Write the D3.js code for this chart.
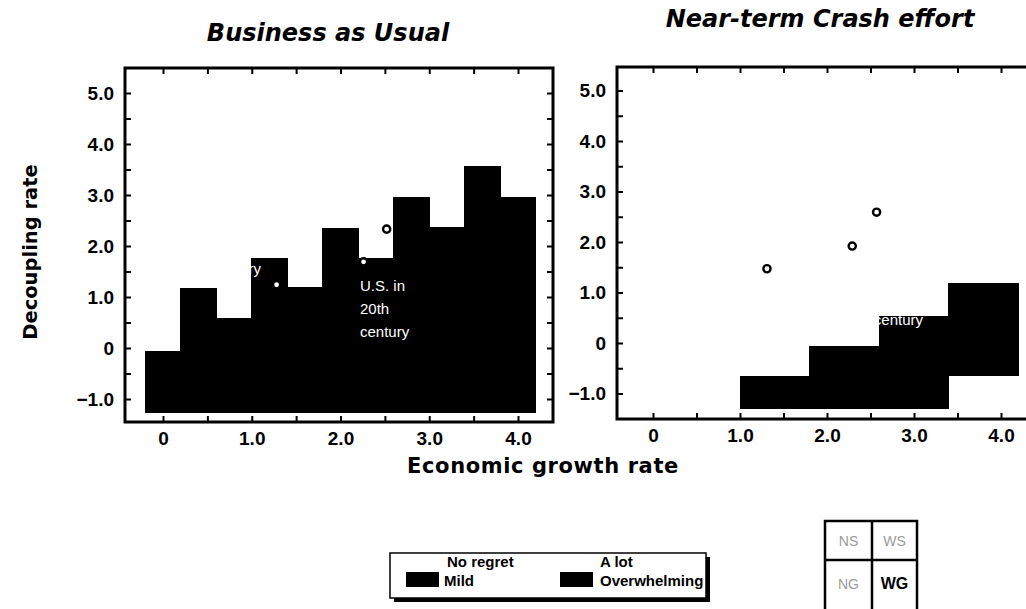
<!DOCTYPE html>
<html>
<head>
<meta charset="utf-8">
<script src="https://cdn.jsdelivr.net/npm/d3@7"></script>
<style>
  body { margin: 0; background: #fff; }
  svg { display: block; }
  text { font-family: "Liberation Sans", Arial, sans-serif; }
</style>
</head>
<body>
<script>
// left panel: "Business as Usual" (bars of width 0.4, from low to high)
let leftCenters = [0, 0.4, 0.8, 1.2, 1.6, 2.0, 2.4, 2.8, 3.2, 3.6, 4.0];
let leftLows    = [-1.27, -1.27, -1.27, -1.27, -1.27, -1.27, -1.27, -1.27, -1.27, -1.27, -1.27];
let leftHighs   = [-0.06, 1.16, 0.57, 1.76, 1.18, 2.35, 1.76, 2.96, 2.37, 3.55, 2.96];
let leftPoints  = [[1.28, 1.24], [2.26, 1.69], [2.52, 2.33]];

// right panel: "Near-term Crash effort" (bars of width 0.8)
let rightCenters = [1.4, 2.2, 3.0, 3.8];
let rightLows    = [-1.3, -1.3, -1.3, -0.65];
let rightHighs   = [-0.67, -0.06, 0.53, 1.17];
let rightPoints  = [[1.31, 1.47], [2.29, 1.92], [2.57, 2.59]];

let xTickVals = [0, 0.5, 1, 1.5, 2, 2.5, 3, 3.5, 4];
let yTickVals = [-1, -0.5, 0, 0.5, 1, 1.5, 2, 2.5, 3, 3.5, 4, 4.5, 5];
let legendTop = ["No regret", "A lot"];
let legendBottom = ["Mild", "Overwhelming"];
let gridLabels = [["NS", "WS"], ["NG", "WG"]];

let w = 1026;
let h = 609;
const heavy = "'DejaVu Sans', 'Liberation Sans', sans-serif";

const svg = d3.select("body")
  .append("svg")
  .attr("width", w)
  .attr("height", h);

function fmt(d) {
  if (d % 1 !== 0) return "";
  if (d === 0) return "0";
  return (d < 0 ? "\u22121.0" : d.toFixed(1));
}

function drawPanel(p) {
  const x = d3.scaleLinear().domain(p.xDomain).range([p.left, p.right]);
  const y = d3.scaleLinear().domain(p.yDomain).range([p.bottom, p.top]);
  const g = svg.append("g");

  // bars
  g.selectAll("rect.bar")
    .data(p.centers)
    .enter()
    .append("rect")
    .attr("class", "bar")
    .attr("x", function(d) { return x(d - p.width / 2); })
    .attr("width", function(d) { return x(d + p.width / 2) - x(d - p.width / 2); })
    .attr("y", function(d, i) { return y(p.highs[i]); })
    .attr("height", function(d, i) { return y(p.lows[i]) - y(p.highs[i]); })
    .attr("fill", "#000")
    .attr("stroke", "#000")
    .attr("stroke-width", 1)
    .attr("shape-rendering", "crispEdges");

  // white labels sitting on the bars
  p.labels.forEach(function(l) {
    g.append("text")
      .attr("x", l.x)
      .attr("y", l.y)
      .attr("text-anchor", l.anchor)
      .attr("fill", "#fff")
      .attr("font-size", 15)
      .text(l.text);
  });

  // open circles
  g.selectAll("circle")
    .data(p.points)
    .enter()
    .append("circle")
    .attr("cx", function(d) { return x(d[0]); })
    .attr("cy", function(d) { return y(d[1]); })
    .attr("r", 3.6)
    .attr("fill", "#fff")
    .attr("stroke", "#000")
    .attr("stroke-width", 2.4);

  // axes, ticks pointing inwards
  const xb = g.append("g").attr("transform", "translate(0," + p.bottom + ")")
    .call(d3.axisBottom(x).tickValues(xTickVals).tickSize(-6).tickPadding(10).tickFormat(fmt));
  const xt = g.append("g").attr("transform", "translate(0," + p.top + ")")
    .call(d3.axisTop(x).tickValues(xTickVals).tickSize(-6).tickFormat(""));
  const yl = g.append("g").attr("transform", "translate(" + p.left + ",0)")
    .call(d3.axisLeft(y).tickValues(yTickVals).tickSize(-6).tickPadding(11).tickFormat(fmt));
  const yr = g.append("g").attr("transform", "translate(" + p.right + ",0)")
    .call(d3.axisRight(y).tickValues(yTickVals).tickSize(-6).tickFormat(""));

  [xb, xt, yl, yr].forEach(function(a) {
    a.select(".domain").remove();
    a.selectAll(".tick line").attr("stroke", "#000").attr("stroke-width", 2);
    a.selectAll(".tick text")
      .attr("fill", "#000")
      .attr("font-size", 19)
      .attr("font-weight", "bold")
      .style("font-family", "'Liberation Sans', Arial, sans-serif");
  });

  // frame
  g.append("rect")
    .attr("x", p.left)
    .attr("y", p.top)
    .attr("width", p.right - p.left)
    .attr("height", p.bottom - p.top)
    .attr("fill", "none")
    .attr("stroke", "#000")
    .attr("stroke-width", 3);

  // title
  svg.append("text")
    .attr("x", p.titleX)
    .attr("y", p.titleY)
    .attr("text-anchor", "middle")
    .attr("font-size", 24)
    .attr("font-weight", "bold")
    .attr("font-style", "italic")
    .attr("fill", "#000")
    .style("font-family", heavy)
    .text(p.title);
}

drawPanel({
  title: "Business as Usual", titleX: 328, titleY: 41,
  left: 125, right: 553, top: 68, bottom: 422,
  xDomain: [(125 - 163) / 88.75, (553 - 163) / 88.75],
  yDomain: [(348 - 422) / 51, (348 - 68) / 51],
  centers: leftCenters, lows: leftLows, highs: leftHighs, width: 0.4,
  points: leftPoints,
  labels: [
    { text: "century", x: 261, y: 274, anchor: "end" },
    { text: "U.S. in", x: 360, y: 291, anchor: "start" },
    { text: "20th", x: 360, y: 314, anchor: "start" },
    { text: "century", x: 360, y: 337, anchor: "start" }
  ]
});

drawPanel({
  title: "Near-term Crash effort", titleX: 820, titleY: 27,
  left: 617, right: 1044, top: 67, bottom: 419,
  xDomain: [(617 - 653) / 87, (1044 - 653) / 87],
  yDomain: [(343 - 419) / 50.5, (343 - 67) / 50.5],
  centers: rightCenters, lows: rightLows, highs: rightHighs, width: 0.8,
  points: rightPoints,
  labels: [
    { text: "century", x: 923, y: 325, anchor: "end" }
  ]
});

// axis titles
svg.append("text")
  .attr("transform", "translate(37,252) rotate(-90)")
  .attr("text-anchor", "middle")
  .attr("font-size", 19.5)
  .attr("font-weight", "bold")
  .style("font-family", heavy)
  .text("Decoupling rate");

svg.append("text")
  .attr("x", 543)
  .attr("y", 473)
  .attr("text-anchor", "middle")
  .attr("font-size", 21)
  .attr("font-weight", "bold")
  .attr("letter-spacing", 0.6)
  .style("font-family", heavy)
  .text("Economic growth rate");

// legend box with drop shadow
const lg = svg.append("g");
lg.append("rect").attr("x", 394).attr("y", 557).attr("width", 316).attr("height", 45).attr("fill", "#000");
lg.append("rect").attr("x", 390).attr("y", 553).attr("width", 316).attr("height", 45)
  .attr("fill", "#fff").attr("stroke", "#000").attr("stroke-width", 1.5);

let legX = [406, 560];
let legTextX = [447, 600];
legX.forEach(function(lx, i) {
  lg.append("rect").attr("x", lx).attr("y", 572).attr("width", 33).attr("height", 15).attr("fill", "#000");
  lg.append("text").attr("x", legTextX[i]).attr("y", 567)
    .attr("font-size", 15).attr("font-weight", "bold").text(legendTop[i]);
  lg.append("text").attr("x", legTextX[i] - (i === 0 ? 3 : 0)).attr("y", 586)
    .attr("font-size", 15).attr("font-weight", "bold").text(legendBottom[i]);
});

// small key grid
const kg = svg.append("g");
let colX = [825, 872, 917];
let rowY = [521, 560, 625];
kg.append("rect").attr("x", colX[0]).attr("y", rowY[0])
  .attr("width", colX[2] - colX[0]).attr("height", rowY[2] - rowY[0])
  .attr("fill", "none").attr("stroke", "#000").attr("stroke-width", 2.5);
kg.append("line").attr("x1", colX[1]).attr("x2", colX[1]).attr("y1", rowY[0]).attr("y2", rowY[2])
  .attr("stroke", "#000").attr("stroke-width", 2.5);
kg.append("line").attr("x1", colX[0]).attr("x2", colX[2]).attr("y1", rowY[1]).attr("y2", rowY[1])
  .attr("stroke", "#000").attr("stroke-width", 2.5);
gridLabels.forEach(function(row, r) {
  row.forEach(function(t, c) {
    const strong = (r === 1 && c === 1);
    kg.append("text")
      .attr("x", (colX[c] + colX[c + 1]) / 2)
      .attr("y", r === 0 ? 546 : 589)
      .attr("text-anchor", "middle")
      .attr("font-size", strong ? 16 : 14)
      .attr("font-weight", strong ? "bold" : "normal")
      .attr("fill", strong ? "#000" : "#9a9a9a")
      .text(t);
  });
});
</script>
</body>
</html>
